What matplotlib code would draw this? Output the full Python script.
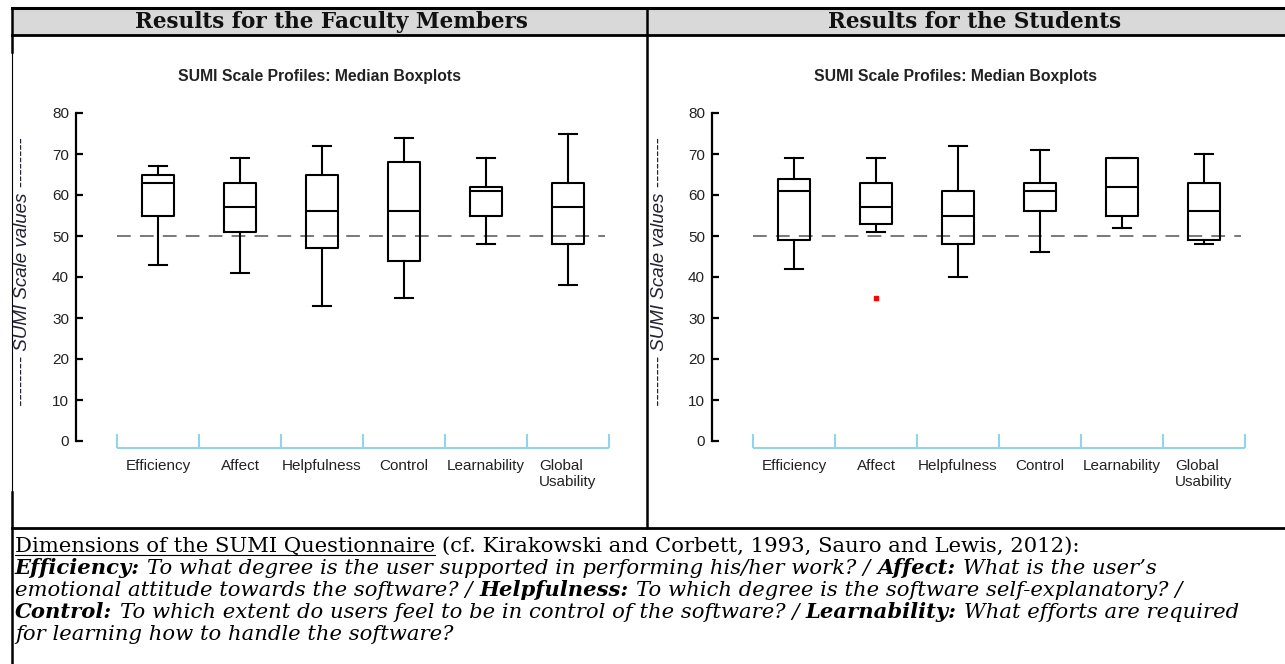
import numpy as np
import matplotlib
matplotlib.use('Agg')
import matplotlib.pyplot as plt
from matplotlib.patches import Rectangle

categories = ['Efficiency', 'Affect', 'Helpfulness', 'Control', 'Learnability', 'Global\nUsability']
yticks = [0, 10, 20, 30, 40, 50, 60, 70, 80]
reference = 50

# faculty members: lower whisker, q1, median, q3, upper whisker
fac_low = [43, 41, 33, 35, 48, 38]
fac_q1 = [55, 51, 47, 44, 55, 48]
fac_med = [63, 57, 56, 56, 61, 57]
fac_q3 = [65, 63, 65, 68, 62, 63]
fac_high = [67, 69, 72, 74, 69, 75]
fac_fliers = [[], [], [], [], [], []]

# students
stu_low = [42, 51, 40, 46, 52, 48]
stu_q1 = [49, 53, 48, 56, 55, 49]
stu_med = [61, 57, 55, 61, 62, 56]
stu_q3 = [64, 63, 61, 63, 69, 63]
stu_high = [69, 69, 72, 71, 69, 70]
stu_fliers = [[], [35], [], [], [], []]

headers = ['Results for the Faculty Members', 'Results for the Students']
chart_title = 'SUMI Scale Profiles: Median Boxplots'
ylabel = '-------- SUMI Scale values --------'

# footnote lines, pieces: (text, style)
notes = [
    [('Dimensions of the SUMI Questionnaire', 'u'),
     ('(cf. Kirakowski and Corbett, 1993, Sauro and Lewis, 2012):', 'r')],
    [('Efficiency:', 'bi'), ('To what degree is the user supported in performing his/her work? /', 'i'),
     ('Affect:', 'bi'), ('What is the user\u2019s', 'i')],
    [('emotional attitude towards the software? /', 'i'), ('Helpfulness:', 'bi'),
     ('To which degree is the software self-explanatory? /', 'i')],
    [('Control:', 'bi'), ('To which extent do users feel to be in control of the software? /', 'i'),
     ('Learnability:', 'bi'), ('What efforts are required', 'i')],
    [('for learning how to handle the software?', 'i')],
]

W, H = 1285, 664
fig = plt.figure(figsize=(W / 100, H / 100), dpi=100)
fig.patch.set_facecolor('white')

# background axes in pixel coords (y down)
bg = fig.add_axes([0, 0, 1, 1])
bg.set_xlim(0, W)
bg.set_ylim(H, 0)
bg.axis('off')
bg.add_patch(Rectangle((12, 8), W - 12, 27, facecolor='#d9d9d9', edgecolor='none'))
bg.plot([12, W], [8, 8], color='black', lw=2.2)
bg.plot([12, W], [35, 35], color='black', lw=2.0)
bg.plot([12, W], [528, 528], color='black', lw=2.0)
bg.plot([647, 647], [8, 528], color='black', lw=1.8)
bg.plot([12, 12], [8, 52], color='black', lw=1.8)
bg.plot([12, 12], [52, 492], color='black', lw=0.8)
bg.plot([12, 12], [492, H], color='black', lw=1.8)

bg.text(331, 22, headers[0], ha='center', va='center', family='DejaVu Serif',
        weight='bold', fontsize=15.5, color='#111111')
bg.text(975, 22, headers[1], ha='center', va='center', family='DejaVu Serif',
        weight='bold', fontsize=15.5, color='#111111')

sans = 'Liberation Sans'
cyan = '#92d5ea'


def make_chart(x0, low, q1, med, q3, high, fliers, title_x, label_x):
    unit = 82.0
    xmin, xmax = -1.0, 5.55
    ymin, ymax = -2, 81
    x1 = x0 + (xmax - xmin) * unit
    ytop = 441 - ymax * 4.1
    ybot = 441 - ymin * 4.1
    ax = fig.add_axes([x0 / W, 1 - ybot / H, (x1 - x0) / W, (ybot - ytop) / H])
    ax.set_xlim(xmin, xmax)
    ax.set_ylim(ymin, ymax)
    ax.patch.set_alpha(0)

    stats = []
    for i in range(len(categories)):
        stats.append(dict(whislo=low[i], q1=q1[i], med=med[i], q3=q3[i],
                          whishi=high[i], fliers=fliers[i]))
    ax.bxp(stats, positions=range(len(categories)), widths=0.38, capwidths=0.21,
           showfliers=True, manage_ticks=False,
           boxprops=dict(color='black', linewidth=1.5),
           whiskerprops=dict(color='black', linewidth=1.5),
           capprops=dict(color='black', linewidth=1.5),
           medianprops=dict(color='black', linewidth=1.5),
           flierprops=dict(marker='s', markerfacecolor='red', markeredgecolor='red',
                           markersize=2.2))

    ax.hlines(reference, -0.5, 5.45, colors='#555555', linewidth=1.1,
              linestyles=(0, (9, 6)), zorder=1)

    # cyan category bracket
    n = len(categories)
    ax.hlines(-1.7, -0.5, n - 0.5, colors=cyan, linewidth=1.5)
    ax.vlines(np.arange(n + 1) - 0.5, -1.7, 1.7, colors=cyan, linewidth=1.5)

    for s in ['top', 'right', 'bottom']:
        ax.spines[s].set_visible(False)
    ax.spines['left'].set_bounds(0, 80)
    ax.spines['left'].set_linewidth(1.6)
    ax.set_yticks(yticks)
    ax.tick_params(axis='y', direction='in', length=5, width=1.6, pad=5,
                   labelsize=11, labelcolor='#222222')
    ax.set_xticks(range(n))
    ax.set_xticklabels(categories, fontsize=11, color='#222222', family=sans)
    for lab in ax.get_xticklabels():
        lab.set_multialignment('left')
    ax.tick_params(axis='x', length=0, pad=7)
    for lab in ax.get_yticklabels():
        lab.set_family(sans)

    bg.text(title_x, 77, chart_title, ha='center', va='center', family=sans,
            weight='bold', fontsize=11.3, color='#222222')
    bg.text(label_x, 272, ylabel, ha='center', va='center', rotation=90,
            family=sans, style='italic', fontsize=13.5, color='#222233')


make_chart(76, fac_low, fac_q1, fac_med, fac_q3, fac_high, fac_fliers, 320, 23)
make_chart(712, stu_low, stu_q1, stu_med, stu_q3, stu_high, stu_fliers, 955, 659)

# footnote text, drawn piece by piece
renderer = fig.canvas.get_renderer()
styles = {
    'r': dict(style='normal', weight='normal'),
    'u': dict(style='normal', weight='normal'),
    'i': dict(style='italic', weight='normal'),
    'bi': dict(style='italic', weight='bold'),
}
fs = 15.2
baselines = [552, 574, 596, 618, 640]
for line, yb in zip(notes, baselines):
    x = 15
    for text, st in line:
        t = bg.text(x, yb, text, ha='left', va='baseline', family='DejaVu Serif',
                    fontsize=fs, color='black', **styles[st])
        ext = t.get_window_extent(renderer)
        if st == 'u':
            bg.plot([x, x + ext.width], [yb + 2.5, yb + 2.5], color='black', lw=0.8)
        sp = bg.text(0, 0, 'x x', family='DejaVu Serif', fontsize=fs, **styles[st])
        sp2 = bg.text(0, 0, 'xx', family='DejaVu Serif', fontsize=fs, **styles[st])
        gap = sp.get_window_extent(renderer).width - sp2.get_window_extent(renderer).width
        sp.remove()
        sp2.remove()
        x += ext.width + gap

fig.savefig('out.png', dpi=100)
